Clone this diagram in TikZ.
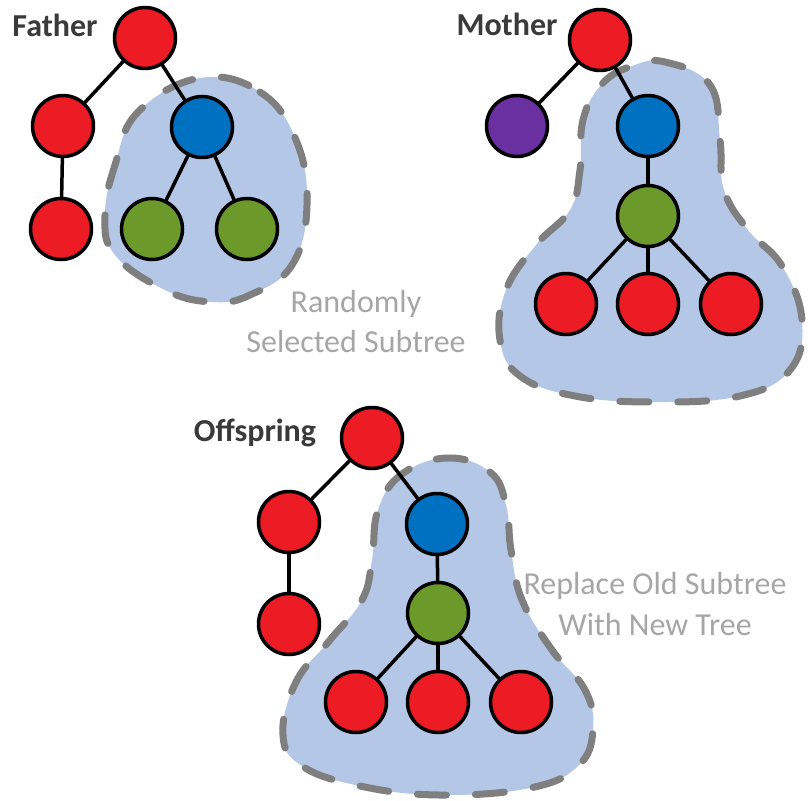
\documentclass[tikz,border=0pt]{standalone}
\usepackage{fontspec}
\setmainfont{Carlito}
\usepackage{xcolor}
\definecolor{nodered}{HTML}{ED1C24}
\definecolor{nodeblue}{HTML}{0070C0}
\definecolor{nodegreen}{HTML}{6B9A2B}
\definecolor{nodepurple}{HTML}{6A2FA0}
\definecolor{blobfill}{HTML}{B4C7E7}
\definecolor{blobline}{HTML}{7F7F7F}
\definecolor{titlegray}{HTML}{3A3A3A}
\definecolor{notegray}{HTML}{A6A6A6}
\tikzset{
  vtx/.style={circle, draw, line width=3.5pt, minimum size=61pt, inner sep=0pt},
  redv/.style={vtx, fill=nodered},
  bluev/.style={vtx, fill=nodeblue},
  greenv/.style={vtx, fill=nodegreen},
  purplev/.style={vtx, fill=nodepurple},
  edge/.style={line width=3.5pt},
  blob/.style={fill=blobfill, draw=blobline, line width=7pt, dash pattern=on 29pt off 29pt},
  ttl/.style={font=\fontsize{32}{40}\selectfont\bfseries, text=titlegray},
  note/.style={font=\fontsize{32}{40}\selectfont, text=notegray, align=center},
  every picture/.style={line cap=round, line join=round}
}

\begin{document}
\begin{tikzpicture}[x=1pt,y=-1pt]
    \useasboundingbox (0,0) rectangle (808,800);

    % selected subtrees
    \draw[blob] plot[smooth cycle, tension=0.7] coordinates {
      (200,78) (260,92) (296,140) (307,205) (292,265) (250,295) (212,302)
      (165,290) (115,255) (105,215) (115,165) (138,112)};
    \draw[blob] plot[smooth cycle, tension=0.7] coordinates {
      (665,62) (710,85) (720,140) (724,190) (748,230) (782,266) (802,320)
      (790,370) (740,396) (655,402) (575,396) (520,376) (500,340) (506,290)
      (536,245) (570,210) (580,170) (583,120) (602,84) (632,66)};
    \draw[blob] plot[smooth cycle, tension=0.7] coordinates {
      (448,458) (490,472) (506,505) (511,550) (522,600) (552,650) (585,690)
      (593,730) (578,766) (530,788) (440,795) (360,786) (302,766) (283,735)
      (296,682) (330,640) (362,600) (372,560) (378,510) (402,474)};

    % father
    \node[redv] (f0) at (145,38) {};
    \node[redv] (f1) at (63,126) {};
    \node[redv] (f2) at (61,229) {};
    \node[bluev] (f3) at (202,127) {};
    \node[greenv] (f4) at (152,229) {};
    \node[greenv] (f5) at (247,229) {};

    % mother
    \node[redv] (m0) at (600,40) {};
    \node[purplev] (m1) at (517,126) {};
    \node[bluev] (m2) at (648,126) {};
    \node[greenv] (m3) at (648,216) {};
    \node[redv] (m4) at (566,304) {};
    \node[redv] (m5) at (648,304) {};
    \node[redv] (m6) at (731,304) {};

    % offspring
    \node[redv] (o0) at (372,438) {};
    \node[redv] (o1) at (289,522) {};
    \node[redv] (o2) at (289,624) {};
    \node[bluev] (o3) at (437,524) {};
    \node[greenv] (o4) at (438,613) {};
    \node[redv] (o5) at (356,702) {};
    \node[redv] (o6) at (438,702) {};
    \node[redv] (o7) at (521,702) {};

    \draw[edge] (f0)--(f1);
    \draw[edge] (f0)--(f3);
    \draw[edge] (f1)--(f2);
    \draw[edge] (f3)--(f4);
    \draw[edge] (f3)--(f5);

    \draw[edge] (m0)--(m1);
    \draw[edge] (m0)--(m2);
    \draw[edge] (m2)--(m3);
    \draw[edge] (m3)--(m4);
    \draw[edge] (m3)--(m5);
    \draw[edge] (m3)--(m6);

    \draw[edge] (o0)--(o1);
    \draw[edge] (o0)--(o3);
    \draw[edge] (o1)--(o2);
    \draw[edge] (o3)--(o4);
    \draw[edge] (o4)--(o5);
    \draw[edge] (o4)--(o6);
    \draw[edge] (o4)--(o7);

    % labels
    \node[ttl] (fl) at (55,25) {Father};
    \node[ttl] (ml) at (507,24) {Mother};
    \node[ttl] (ol) at (255,433) {Offspring};
    \node[note] (sel) at (356,322) {Randomly\\Selected Subtree};
    \node[note] (rep) at (655,604) {Replace Old Subtree\\With New Tree};
  \end{tikzpicture}
\end{document}
